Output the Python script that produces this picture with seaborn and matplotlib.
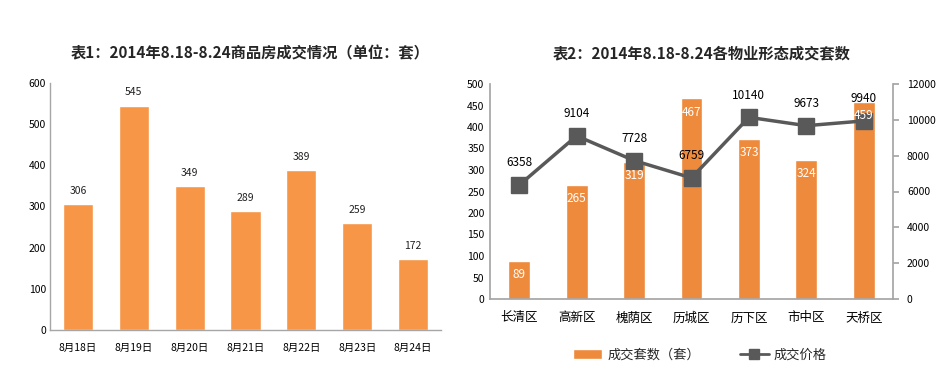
import numpy as np
import matplotlib
matplotlib.use("Agg")
import matplotlib.pyplot as plt
import seaborn as sns
import pandas as pd

# 表1 数据
dates = ['8月18日', '8月19日', '8月20日', '8月21日', '8月22日', '8月23日', '8月24日']
daily_sales = [306, 545, 349, 289, 389, 259, 172]

# 表2 数据
districts = ['长清区', '高新区', '槐荫区', '历城区', '历下区', '市中区', '天桥区']
district_sales = [89, 265, 319, 467, 373, 324, 459]
district_price = [6358, 9104, 7728, 6759, 10140, 9673, 9940]

sns.set_theme(style="white")
plt.rcParams['font.family'] = ['Noto Sans CJK SC', 'DejaVu Sans']
plt.rcParams['axes.unicode_minus'] = False

fig = plt.figure(figsize=(9.49, 3.82), dpi=100)
W, H = 949, 382

def axes_px(x0, y0, x1, y1):
    return fig.add_axes([x0 / W, 1 - y1 / H, (x1 - x0) / W, (y1 - y0) / H])

spine_c = '#a6a6a6'

# ---------- 表1 ----------
ax1 = axes_px(50, 83, 441, 330)
df1 = pd.DataFrame({'日期': dates, '套数': daily_sales})
sns.barplot(data=df1, x='日期', y='套数', color='#F79646', width=0.54, saturation=1, ax=ax1)
ax1.set_ylim(0, 600)
ax1.set_yticks(range(0, 601, 100))
ax1.set_xlabel('')
ax1.set_ylabel('')
for s in ['top', 'right']:
    ax1.spines[s].set_visible(False)
for s in ['left', 'bottom']:
    ax1.spines[s].set_color(spine_c)
    ax1.spines[s].set_linewidth(1)
ax1.tick_params(axis='y', labelsize=7.5, colors='#000000', pad=3, length=0)
ax1.tick_params(axis='x', labelsize=7.5, colors='#000000', pad=9, length=0)
ax1.bar_label(ax1.containers[0], fontsize=7.5, padding=6, color='#222222')
fig.text(250 / W, 1 - 53 / H, '表1：2014年8.18-8.24商品房成交情况（单位：套）',
         ha='center', va='center', fontsize=11, fontweight='bold')

# ---------- 表2 ----------
ax2 = axes_px(490, 84, 893, 299)
df2 = pd.DataFrame({'区域': districts, '成交套数（套）': district_sales})
sns.barplot(data=df2, x='区域', y='成交套数（套）', color='#EE8A3C', width=0.38,
            saturation=1, ax=ax2, label='成交套数（套）', legend=False)
if ax2.get_legend() is not None:
    ax2.get_legend().remove()
ax2.set_ylim(0, 500)
ax2.set_yticks(range(0, 501, 50))
ax2.set_xlabel('')
ax2.set_ylabel('')
for s in ['top', 'right']:
    ax2.spines[s].set_visible(False)
for s in ['left', 'bottom']:
    ax2.spines[s].set_color(spine_c)
ax2.tick_params(axis='y', labelsize=7.5, colors='#000000', pad=4, length=0)
ax2.tick_params(axis='x', labelsize=9, colors='#000000', pad=9, length=0)

ax3 = ax2.twinx()
x = np.arange(len(districts))
ax3.plot(x, district_price, color='#595959', linewidth=2.5, marker='s',
         markersize=11, markerfacecolor='#595959', markeredgecolor='#595959',
         label='成交价格')
ax3.set_ylim(0, 12000)
ax3.set_yticks(range(0, 12001, 2000))
for s in ['top', 'left', 'bottom']:
    ax3.spines[s].set_visible(False)
ax3.spines['right'].set_color(spine_c)
ax3.tick_params(axis='y', labelsize=7.5, colors='#000000', pad=6, length=4, color=spine_c)
ax3.grid(False)
for xi, v in zip(x, district_price):
    ax3.annotate(str(v), (xi, v), xytext=(0, 16), textcoords='offset points',
                 ha='center', va='center', fontsize=8.5, color='#000000')

# 柱内数字（白色），画在折线之上
for xi, v in zip(x, district_sales):
    ax3.annotate(str(v), (xi, v * 12000 / 500), xytext=(0, -10), textcoords='offset points',
                 ha='center', va='center', fontsize=8.5, color='white', zorder=5)

fig.text(702 / W, 1 - 53 / H, '表2：2014年8.18-8.24各物业形态成交套数',
         ha='center', va='center', fontsize=11, fontweight='bold')

h1, l1 = ax2.get_legend_handles_labels()
h2, l2 = ax3.get_legend_handles_labels()
leg = fig.legend(h1[:1] + h2, ['成交套数（套）', '成交价格'], loc='center',
                 bbox_to_anchor=(700 / W, 1 - 355 / H),
                 ncol=2, frameon=False, fontsize=9.5, handlelength=2.2,
                 columnspacing=3, handletextpad=0.4)
leg.legend_handles[1].set_markersize(7)
leg.legend_handles[1].set_linewidth(2)

fig.savefig('out.png', dpi=100)
